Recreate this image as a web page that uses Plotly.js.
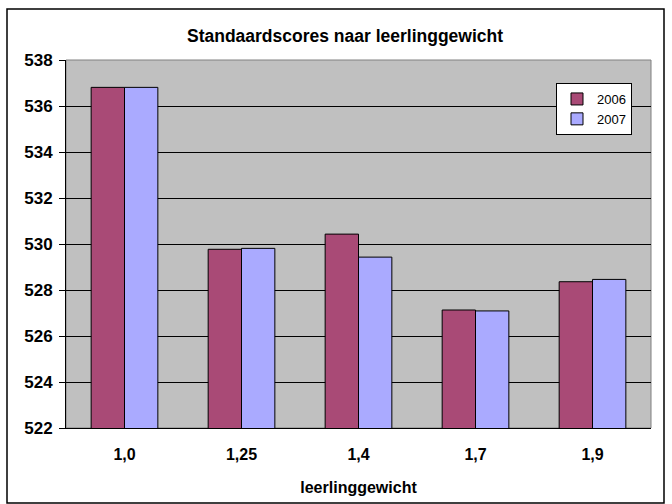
<!DOCTYPE html>
<html>
<head>
<meta charset="utf-8">
<script src="https://cdn.plot.ly/plotly-3.0.1.min.js"></script>
<style>
  html, body { margin: 0; padding: 0; background: #ffffff; }
  #chart { width: 672px; height: 504px; }
</style>
</head>
<body>
<div id="chart"></div>
<script>
const categories = ["1,0", "1,25", "1,4", "1,7", "1,9"];
const values2006 = [536.81, 529.77, 530.43, 527.13, 528.36];
const values2007 = [536.81, 529.81, 529.43, 527.09, 528.46];
const seriesNames = ["2006", "2007"];
const yTicks = [522, 524, 526, 528, 530, 532, 534, 536, 538];

const FONT = "Liberation Sans, Arial, sans-serif";

const traces = [
  {
    type: "bar", name: seriesNames[0], x: categories, y: values2006,
    marker: { color: "#A94A76", line: { color: "#000000", width: 1 } }
  },
  {
    type: "bar", name: seriesNames[1], x: categories, y: values2007,
    marker: { color: "#AAAAFF", line: { color: "#000000", width: 1 } }
  }
];

const L = 66, R = 21, T = 60, B = 76;
const W = 672 - L - R, H = 504 - T - B;
const px = v => (v - L) / W;
const py = v => (504 - B - v) / H;

const layout = {
  width: 672, height: 504,
  margin: { l: L, r: R, t: T, b: B, pad: 0 },
  paper_bgcolor: "#ffffff",
  plot_bgcolor: "#C0C0C0",
  font: { family: FONT, color: "#000000" },
  title: {
    text: "<b>Standaardscores naar leerlinggewicht</b>",
    font: { size: 17.5, family: FONT },
    x: px(345), xref: "paper", xanchor: "center",
    y: 1 - 36 / 504, yref: "container", yanchor: "middle"
  },
  barmode: "group",
  bargap: 0.43,
  bargroupgap: 0,
  xaxis: {
    type: "category",
    tickvals: categories,
    ticktext: categories.map(c => "<b>" + c + "</b>"),
    showgrid: false,
    showline: true, linecolor: "#000000", linewidth: 1,
    ticks: "",
    tickfont: { size: 16, family: FONT },
    ticklabelstandoff: 12,
    title: {
      text: "<b>leerlinggewicht</b>",
      font: { size: 16, family: FONT },
      standoff: 19
    },
    zeroline: false
  },
  yaxis: {
    range: [522, 538],
    tickvals: yTicks,
    ticktext: yTicks.map(v => "<b>" + v + "</b>"),
    showgrid: true, gridcolor: "#000000", gridwidth: 1,
    showline: true, linecolor: "#000000", linewidth: 1,
    ticks: "outside", ticklen: 6, tickcolor: "#000000",
    tickfont: { size: 17, family: FONT },
    ticklabelstandoff: 3,
    zeroline: false
  },
  legend: {
    x: px(556), y: py(83), xanchor: "left", yanchor: "top",
    bgcolor: "#ffffff", bordercolor: "#000000", borderwidth: 1,
    font: { size: 13, family: FONT },
    itemwidth: 30,
    tracegroupgap: 0
  },
  showlegend: true,
  shapes: [
    {
      type: "rect", xref: "paper", yref: "paper",
      x0: px(7), x1: px(664), y0: py(503), y1: py(9),
      line: { color: "#000000", width: 1.5 }, fillcolor: "rgba(0,0,0,0)",
      layer: "above"
    },
    {
      type: "rect", xref: "paper", yref: "paper",
      x0: 0, x1: 1, y0: 0, y1: 1,
      line: { color: "#808080", width: 1 }, fillcolor: "rgba(0,0,0,0)",
      layer: "below"
    }
  ]
};

Plotly.newPlot("chart", traces, layout, { displayModeBar: false, staticPlot: true });
</script>
</body>
</html>
